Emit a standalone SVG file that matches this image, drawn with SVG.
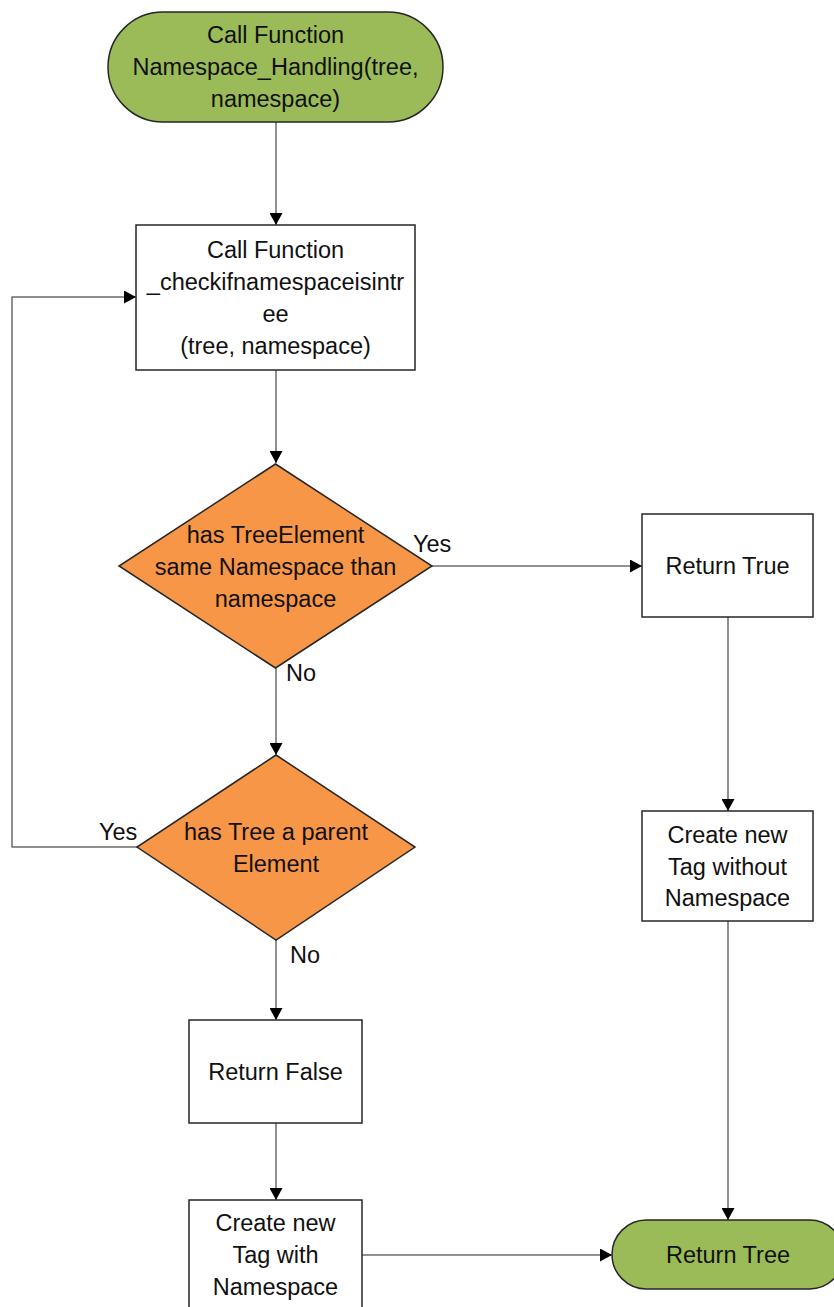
<svg xmlns="http://www.w3.org/2000/svg" width="834" height="1307" viewBox="0 0 834 1307">
  <style>
    .term { fill: #9bbb59; stroke: #262626; stroke-width: 1.5; }
    .dec { fill: #f79646; stroke: #262626; stroke-width: 1.5; }
    .proc { fill: #ffffff; stroke: #262626; stroke-width: 1.5; }
    text { font-family: "Liberation Sans", Arial, sans-serif; font-size: 23.5px; fill: #111111; }
    .c { text-anchor: middle; }
    .edge { fill: none; stroke: #6b6b6b; stroke-width: 1.5; }
  </style>
  <defs>
    <marker id="arrow" markerUnits="userSpaceOnUse" markerWidth="13" markerHeight="13" refX="12" refY="6.5" orient="auto">
      <path d="M0,0 L12,6.5 L0,13 Z" fill="#000000"/>
    </marker>
  </defs>
  <rect width="834" height="1307" fill="#ffffff"/>

  <g id="connectors">
    <path class="edge" d="M276,122 V225" marker-end="url(#arrow)"/>
    <path class="edge" d="M276,370 V463" marker-end="url(#arrow)"/>
    <path class="edge" d="M432,566 H642" marker-end="url(#arrow)"/>
    <path class="edge" d="M276,668 V755" marker-end="url(#arrow)"/>
    <path class="edge" d="M137,847 H12 V297 H136" marker-end="url(#arrow)"/>
    <path class="edge" d="M276,940 V1020" marker-end="url(#arrow)"/>
    <path class="edge" d="M276,1123 V1200" marker-end="url(#arrow)"/>
    <path class="edge" d="M362,1255 H612" marker-end="url(#arrow)"/>
    <path class="edge" d="M728,617 V811" marker-end="url(#arrow)"/>
    <path class="edge" d="M728,921 V1220" marker-end="url(#arrow)"/>
    <text x="413" y="552">Yes</text>
    <text x="286" y="681">No</text>
    <text x="99" y="840">Yes</text>
    <text x="290" y="963">No</text>
  </g>

  <g id="start">
    <rect class="term" x="108" y="12" width="335" height="110" rx="55" ry="55"/>
    <text class="c" x="275.5" y="43">Call Function</text>
    <text class="c" x="275.5" y="75">Namespace_Handling(tree,</text>
    <text class="c" x="275.5" y="107">namespace)</text>
  </g>

  <g id="check-call">
    <rect class="proc" x="136" y="225" width="279" height="145"/>
    <text class="c" x="275.5" y="257.5">Call Function</text>
    <text class="c" x="275.5" y="289.5">_checkifnamespaceisintr</text>
    <text class="c" x="275.5" y="321.5">ee</text>
    <text class="c" x="275.5" y="353.5">(tree, namespace)</text>
  </g>

  <g id="same-namespace">
    <polygon class="dec" points="275.5,464 432,566 275.5,668 119,566"/>
    <text class="c" x="275.5" y="543">has TreeElement</text>
    <text class="c" x="275.5" y="575">same Namespace than</text>
    <text class="c" x="275.5" y="607">namespace</text>
  </g>

  <g id="has-parent">
    <polygon class="dec" points="276,755 415,847 276,940 137,847"/>
    <text class="c" x="276" y="840">has Tree a parent</text>
    <text class="c" x="276" y="872">Element</text>
  </g>

  <g id="return-true">
    <rect class="proc" x="642" y="514" width="171" height="103"/>
    <text class="c" x="727.5" y="574">Return True</text>
  </g>

  <g id="tag-without-ns">
    <rect class="proc" x="642" y="811" width="171" height="110"/>
    <text class="c" x="727.5" y="843">Create new</text>
    <text class="c" x="727.5" y="875">Tag without</text>
    <text class="c" x="727.5" y="906">Namespace</text>
  </g>

  <g id="return-false">
    <rect class="proc" x="189" y="1020" width="173" height="103"/>
    <text class="c" x="275.5" y="1080">Return False</text>
  </g>

  <g id="tag-with-ns">
    <rect class="proc" x="189" y="1200" width="173" height="112"/>
    <text class="c" x="275.5" y="1231">Create new</text>
    <text class="c" x="275.5" y="1263">Tag with</text>
    <text class="c" x="275.5" y="1295">Namespace</text>
  </g>

  <g id="return-tree">
    <rect class="term" x="612" y="1220" width="232" height="69" rx="34.5" ry="34.5"/>
    <text class="c" x="728" y="1263">Return Tree</text>
  </g>
</svg>
